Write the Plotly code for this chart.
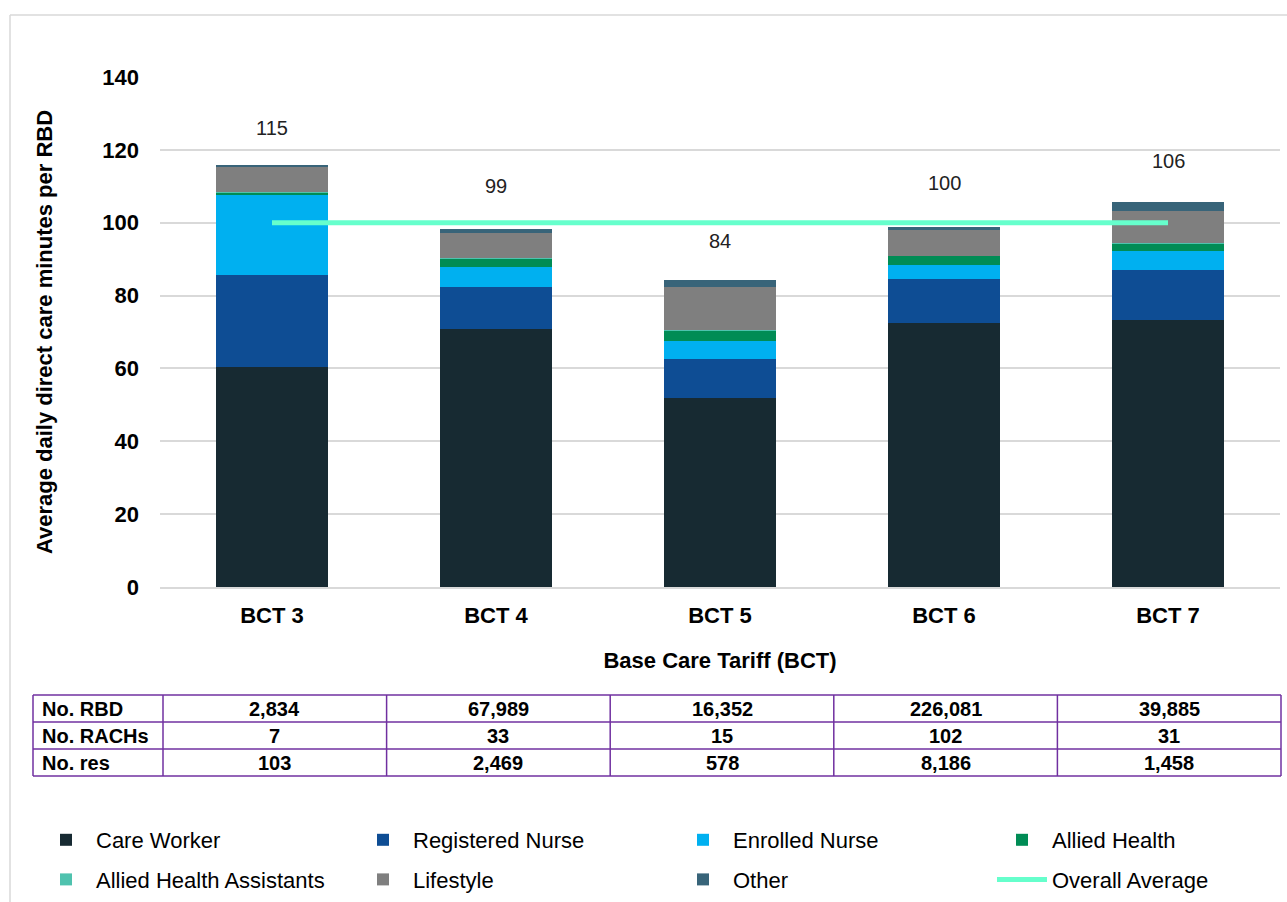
import plotly.graph_objects as go

categories = ["BCT 3", "BCT 4", "BCT 5", "BCT 6", "BCT 7"]

care_worker = [60.4, 70.8, 51.9, 72.6, 73.3]
registered_nurse = [25.2, 11.6, 10.6, 11.9, 13.7]
enrolled_nurse = [22.0, 5.5, 5.1, 3.9, 5.3]
allied_health = [0.6, 2.3, 2.9, 2.5, 2.0]
allied_health_assistants = [0.1, 0.1, 0.1, 0.1, 0.1]
lifestyle = [7.1, 7.0, 11.8, 7.0, 8.8]
other = [0.3, 0.9, 1.8, 0.7, 2.4]
totals = [115, 99, 84, 100, 106]
overall_average = [100, 100, 100, 100, 100]

table_rows = ["No. RBD", "No. RACHs", "No. res"]
no_rbd = ["2,834", "67,989", "16,352", "226,081", "39,885"]
no_rachs = ["7", "33", "15", "102", "31"]
no_res = ["103", "2,469", "578", "8,186", "1,458"]

W, H = 1287, 902
FONT = "Liberation Sans, Arial"

# (name, values, colour, legend column)
series = [
    ("Care Worker", care_worker, "#172A32", "legend"),
    ("Registered Nurse", registered_nurse, "#0E4D94", "legend2"),
    ("Enrolled Nurse", enrolled_nurse, "#00B0F0", "legend3"),
    ("Allied Health", allied_health, "#008C55", "legend4"),
    ("Allied Health Assistants", allied_health_assistants, "#4FC2AE", "legend"),
    ("Lifestyle", lifestyle, "#7F7F7F", "legend2"),
    ("Other", other, "#386479", "legend3"),
]

fig = go.Figure()
for name, vals, color, leg in series:
    fig.add_trace(go.Bar(
        x=categories, y=vals, name=name, legend=leg, legendgroup=name,
        marker=dict(color=color, line=dict(width=0)),
        hoverinfo="skip",
    ))

fig.add_trace(go.Scatter(
    x=categories, y=overall_average, name="Overall Average",
    legend="legend4", legendgroup="Overall Average",
    mode="lines", line=dict(color="#66FFCC", width=5),
))

for c, t in zip(categories, totals):
    fig.add_annotation(x=c, y=t, text=str(t), showarrow=False,
                       yshift=40, font=dict(size=20, color="#222222", family=FONT))

# ---- data table under the chart (drawn with shapes + text) ----
purple = "#7030A0"
tbl_left, tbl_right = 33, 1281
first_col_w = 130
col_w = (tbl_right - tbl_left - first_col_w) / len(categories)
col_edges = [tbl_left, tbl_left + first_col_w] + [
    tbl_left + first_col_w + col_w * (i + 1) for i in range(len(categories))]
row_top, row_h = 695, 27
row_edges = [row_top + row_h * i for i in range(len(table_rows) + 1)]


def px(x):
    return x / W


def py(y):
    return (H - y) / H


for xe in col_edges:
    fig.add_shape(type="line", xref="paper", yref="paper",
                  x0=px(xe), x1=px(xe), y0=py(row_edges[0]), y1=py(row_edges[-1]),
                  line=dict(color=purple, width=1.5))
for ye in row_edges:
    fig.add_shape(type="line", xref="paper", yref="paper",
                  x0=px(col_edges[0]), x1=px(col_edges[-1]), y0=py(ye), y1=py(ye),
                  line=dict(color=purple, width=1.5))

table_values = [no_rbd, no_rachs, no_res]
for r, (label, vals) in enumerate(zip(table_rows, table_values)):
    yc = py(row_edges[r] + row_h / 2)
    fig.add_annotation(x=px(col_edges[0] + 7), y=yc, xref="paper", yref="paper",
                       text=f"<b>{label}</b>", showarrow=False, xanchor="left",
                       yanchor="middle", font=dict(size=20, color="black", family=FONT))
    for i, v in enumerate(vals):
        xc = px((col_edges[i + 1] + col_edges[i + 2]) / 2)
        fig.add_annotation(x=xc, y=yc, xref="paper", yref="paper",
                           text=f"<b>{v}</b>", showarrow=False, xanchor="center",
                           yanchor="middle", font=dict(size=20, color="black", family=FONT))

legend_common = dict(orientation="v", xanchor="left", yanchor="top",
                     itemwidth=50, traceorder="grouped", tracegroupgap=8,
                     bgcolor="rgba(0,0,0,0)",
                     font=dict(size=22, color="black", family=FONT))
leg_y = py(819)

fig.update_layout(
    width=W, height=H,
    margin=dict(l=0, r=0, t=0, b=0, autoexpand=False),
    paper_bgcolor="white", plot_bgcolor="white",
    barmode="stack", bargap=0.5,
    font=dict(family=FONT, color="black"),
    showlegend=True,
    legend=dict(x=px(36), y=leg_y, **legend_common),
    legend2=dict(x=px(353), y=leg_y, **legend_common),
    legend3=dict(x=px(673), y=leg_y, **legend_common),
    legend4=dict(x=px(992), y=leg_y, **legend_common),
    xaxis=dict(domain=[px(160), px(1280)], automargin=False,
               tickfont=dict(size=22, color="black"),
               tickprefix="<b>", ticksuffix="</b>", ticklabelstandoff=8,
               showline=True, linecolor="#D9D9D9", linewidth=1.5,
               title=dict(text="<b>Base Care Tariff (BCT)</b>",
                          font=dict(size=22, color="black"), standoff=25)),
    yaxis=dict(domain=[py(587), py(77)], automargin=False,
               range=[0, 140], dtick=20,
               tickfont=dict(size=22, color="black"),
               tickprefix="<b>", ticksuffix="</b>",
               showgrid=True, gridcolor="#D9D9D9", gridwidth=1.5,
               zeroline=False, ticklabelstandoff=20,
               title=dict(text="<b>Average daily direct care minutes per RBD</b>",
                          font=dict(size=22, color="black"), standoff=43)),
)

# faint frame of the original chart area
fig.add_shape(type="line", xref="paper", yref="paper",
              x0=px(10), x1=px(10), y0=0, y1=py(15),
              line=dict(color="#D9D9D9", width=1.5))
fig.add_shape(type="line", xref="paper", yref="paper",
              x0=px(10), x1=1, y0=py(15), y1=py(15),
              line=dict(color="#D9D9D9", width=1.5))

fig.write_html("out.html", config={"displayModeBar": False},
               post_script="document.body.style.margin='0';")
